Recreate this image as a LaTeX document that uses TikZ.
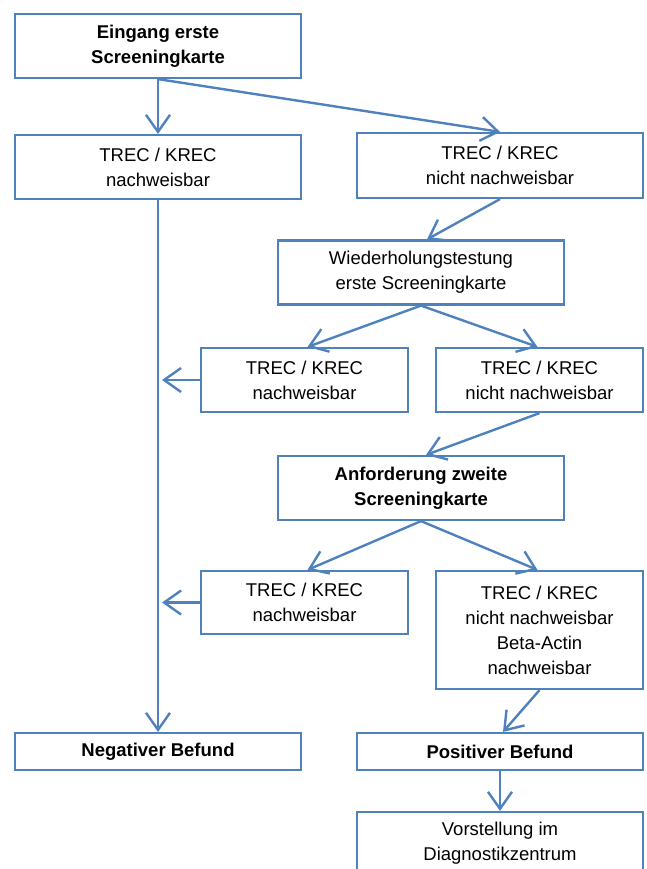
\documentclass[tikz,border=0pt]{standalone}
\usepackage{fontspec}
\setmainfont{Liberation Sans}
\usetikzlibrary{arrows.meta}
\definecolor{lblue}{HTML}{4F81BD}
\begin{document}
\begin{tikzpicture}[x=1pt,y=-1pt,
  box/.style={draw=lblue, line width=2.2pt, align=center, inner sep=0pt,
    font=\fontsize{18.5}{25}\selectfont, text=black},
  wbox/.style={box, minimum width=286pt},
  nbox/.style={box, minimum width=207pt},
  conn/.style={draw=lblue, line width=2.4pt,
    -{Straight Barb[length=17pt,width=24pt,line width=2.4pt]}},
  line/.style={draw=lblue, line width=2.4pt}]
\useasboundingbox (0,0) rectangle (647,869);
\clip (0,0) rectangle (647,869);
\node[wbox, minimum height=64pt] (start) at (158,46) {\bfseries Eingang erste\\\bfseries Screeningkarte};
\node[wbox, minimum height=64pt] (l1) at (158,167) {TREC / KREC\\nachweisbar};
\node[wbox, minimum height=65pt] (r1) at (500,165.5) {TREC / KREC\\nicht nachweisbar};
\node[wbox, minimum height=64pt] (wdh) at (421,272.5) {Wiederholungstestung\\erste Screeningkarte};
\node[nbox, minimum height=64pt] (l2) at (304.5,380) {TREC / KREC\\nachweisbar};
\node[nbox, minimum height=64pt] (r2) at (539.5,380) {TREC / KREC\\nicht nachweisbar};
\node[wbox, minimum height=64pt] (anf) at (421,488) {\bfseries Anforderung zweite\\\bfseries Screeningkarte};
\node[nbox, minimum height=63pt] (l3) at (304.5,602.5) {TREC / KREC\\nachweisbar};
\node[nbox, minimum height=118pt] (r3) at (539.5,630) {TREC / KREC\\nicht nachweisbar\\Beta-Actin\\nachweisbar};
\node[wbox, minimum height=37pt] (neg) at (158,751.5) {\bfseries Negativer Befund};
\node[wbox, minimum height=37pt] (pos) at (500,751.5) {\bfseries Positiver Befund};
\node[wbox, minimum height=62pt] (vor) at (500,843) {Vorstellung im\\Diagnostikzentrum};

\draw[conn] (start.south) -- (l1.north);
\draw[conn] (start.south) -- (r1.north);
\draw[conn] (r1.south) -- ([xshift=6pt]wdh.north);
\draw[conn] (wdh.south) -- ([xshift=3pt]l2.north);
\draw[conn] (wdh.south) -- ([xshift=-2pt]r2.north);
\draw[conn] (r2.south) -- ([xshift=5pt]anf.north);
\draw[conn] (anf.south) -- ([xshift=3pt]l3.north);
\draw[conn] (anf.south) -- ([xshift=-2pt]r3.north);
\draw[conn] (r3.south) -- ([xshift=3pt]pos.north);
\draw[conn] (pos.south) -- (vor.north);
\draw[conn] (l1.south) -- (neg.north);
\coordinate (j2) at ([xshift=4pt]l1.south |- l2.west);
\coordinate (j3) at ([xshift=4pt]l1.south |- l3.west);
\draw[conn] (l2.west) -- (j2);
\draw[conn] (l3.west) -- (j3);
\end{tikzpicture}
\end{document}
